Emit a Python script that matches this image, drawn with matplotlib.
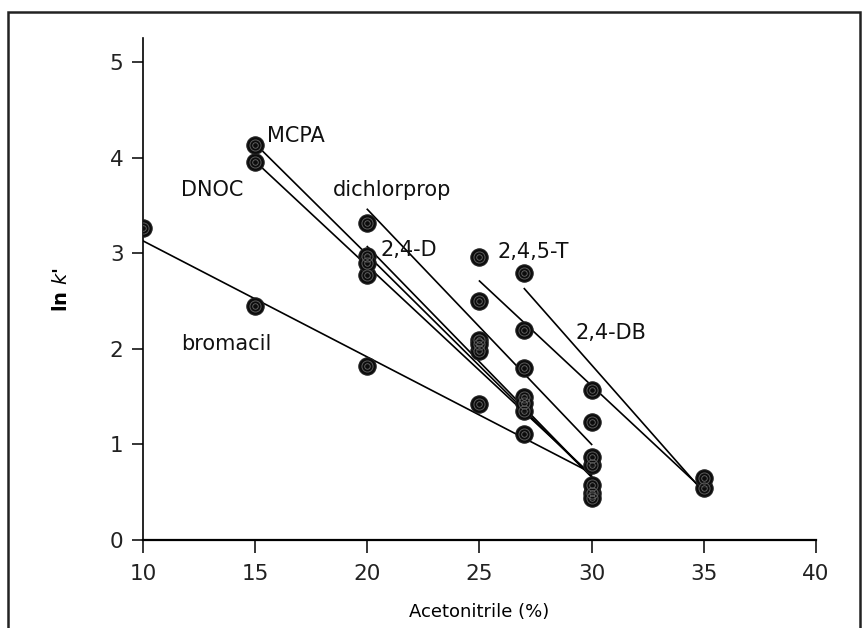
"""
ln k' versus acetonitrile content for seven herbicides
"""

import numpy as np
import matplotlib
matplotlib.use("Agg")
import matplotlib.pyplot as plt
from matplotlib.patches import Rectangle

# measured points per compound (acetonitrile %, ln k')
compounds = ["bromacil", "DNOC", "MCPA", "2,4-D", "dichlorprop", "2,4,5-T", "2,4-DB"]
x_data = {
    "bromacil": [10, 15, 20, 25, 27, 30],
    "DNOC": [15, 20, 25, 27, 30],
    "MCPA": [15, 20, 25, 27, 30],
    "2,4-D": [20, 25, 27, 30],
    "dichlorprop": [20, 25, 27, 30],
    "2,4,5-T": [25, 27, 30, 35],
    "2,4-DB": [27, 30, 35],
}
y_data = {
    "bromacil": [3.26, 2.45, 1.82, 1.42, 1.11, 0.79],
    "DNOC": [3.96, 2.77, 1.98, 1.35, 0.49],
    "MCPA": [4.13, 2.97, 2.09, 1.50, 0.44],
    "2,4-D": [2.90, 2.05, 1.43, 0.58],
    "dichlorprop": [3.32, 2.50, 1.80, 0.87],
    "2,4,5-T": [2.96, 2.20, 1.57, 0.54],
    "2,4-DB": [2.79, 1.24, 0.65],
}

# fitted lines (start/end)
line_x0 = [10, 15.1, 15.2, 20, 20, 25, 27]
line_y0 = [3.13, 3.94, 4.10, 3.07, 3.46, 2.71, 2.63]
line_x1 = [30, 30, 30, 30, 30, 35, 35]
line_y1 = [0.70, 0.68, 0.66, 0.66, 1.00, 0.52, 0.50]

# label positions (left edge, vertical centre)
label_x = [11.7, 11.7, 15.55, 20.6, 18.45, 25.8, 29.3]
label_y = [2.05, 3.66, 4.23, 3.03, 3.66, 3.01, 2.17]

fig = plt.figure(figsize=(8.65, 6.28), dpi=100)
ax = fig.add_axes([0.1653, 0.1401, 0.778, 0.799])

for i, name in enumerate(compounds):
    ax.plot([line_x0[i], line_x1[i]], [line_y0[i], line_y1[i]],
            color="black", lw=1.2, zorder=2)

for name in compounds:
    ax.plot(x_data[name], y_data[name], "o", ms=12.5, color="#0c0c0c",
            mec="#222222", mew=0.8, zorder=3)
    ax.plot(x_data[name], y_data[name], "o", ms=8, mfc="none",
            mec="#5a5a5a", mew=0.7, zorder=4)
    ax.plot(x_data[name], y_data[name], "o", ms=4, mfc="none",
            mec="#6a6a6a", mew=0.6, zorder=4)

for i, name in enumerate(compounds):
    ax.text(label_x[i], label_y[i], name, fontsize=15, va="center",
            ha="left", color="#111111")

ax.set_xlim(10, 40)
ax.set_ylim(0, 5.25)
ax.set_xticks([10, 15, 20, 25, 30, 35, 40])
ax.set_yticks([0, 1, 2, 3, 4, 5])
ax.spines["top"].set_visible(False)
ax.spines["right"].set_visible(False)
ax.spines["left"].set_linewidth(1.2)
ax.spines["bottom"].set_linewidth(1.6)
ax.tick_params(axis="x", direction="out", length=9, width=1.1,
               labelsize=15.5, pad=8)
ax.tick_params(axis="y", direction="out", length=8, width=1.1,
               labelsize=15.5, pad=6)
for lab in ax.get_xticklabels() + ax.get_yticklabels():
    lab.set_color("#222222")

ax.set_xlabel("Acetonitrile (%)", fontsize=13, labelpad=14)
ax.set_ylabel(r"ln $k$'", fontsize=14, fontweight="bold", labelpad=28)

# outer frame of the figure
fig.patches.append(Rectangle((8 / 865, -0.02), 852 / 865, 1 - 12 / 628 + 0.02,
                             transform=fig.transFigure, fill=False,
                             edgecolor="#222222", lw=1.8))

fig.savefig("out.png", dpi=100)
